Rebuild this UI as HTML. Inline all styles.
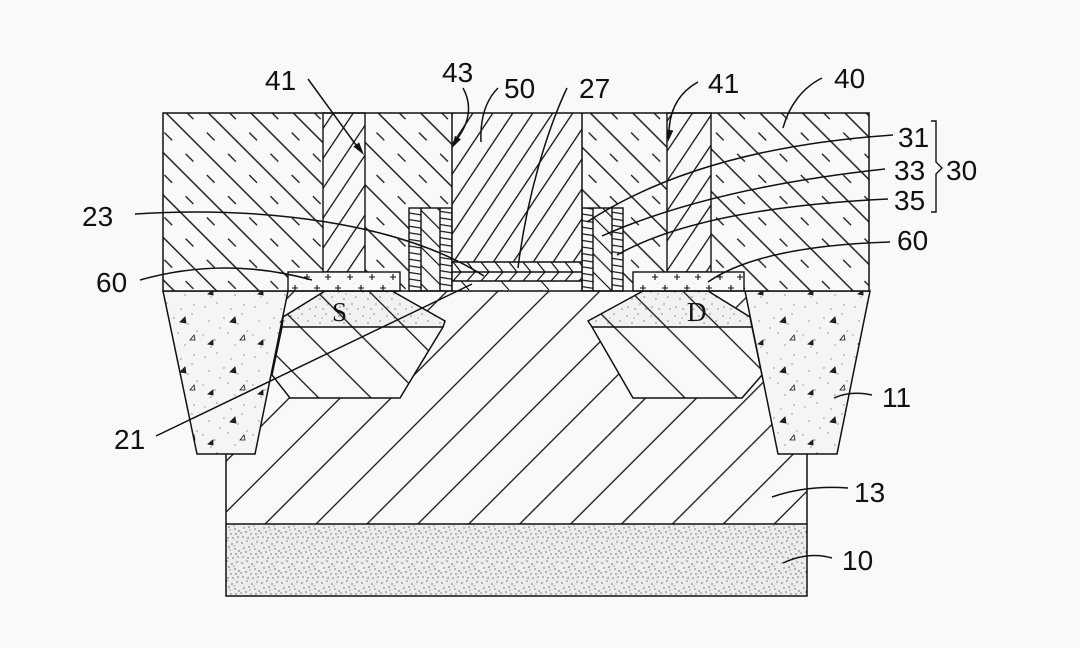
<!DOCTYPE html>
<html><head><meta charset="utf-8">
<style>
html,body{margin:0;padding:0;background:#f9f9f9;}
svg{display:block;}
text{font-family:"Liberation Sans","DejaVu Sans",sans-serif;fill:#111;}
</style></head><body>
<svg width="1080" height="648" viewBox="0 0 1080 648" xmlns="http://www.w3.org/2000/svg">
<defs>
 <pattern id="diel" patternUnits="userSpaceOnUse" width="30" height="30" patternTransform="rotate(-45)">
  <line x1="7.5" y1="0" x2="7.5" y2="30" stroke="#111" stroke-width="1.4"/>
  <line x1="22.5" y1="0" x2="22.5" y2="30" stroke="#111" stroke-width="1.3" stroke-dasharray="11 19"/>
 </pattern>
 <pattern id="plug" patternUnits="userSpaceOnUse" width="16.6" height="40" patternTransform="rotate(33.7)">
  <line x1="8" y1="0" x2="8" y2="40" stroke="#111" stroke-width="1.3"/>
 </pattern>
 <pattern id="sub" patternUnits="userSpaceOnUse" width="36" height="40" patternTransform="rotate(45)">
  <line x1="18" y1="0" x2="18" y2="40" stroke="#111" stroke-width="1.3"/>
 </pattern>
 <pattern id="sd" patternUnits="userSpaceOnUse" width="37" height="40" patternTransform="rotate(-45)">
  <line x1="18" y1="0" x2="18" y2="40" stroke="#111" stroke-width="1.3"/>
 </pattern>
 <pattern id="mid" patternUnits="userSpaceOnUse" width="13" height="20" patternTransform="rotate(-45)">
  <line x1="6" y1="0" x2="6" y2="20" stroke="#111" stroke-width="1.2"/>
 </pattern>
 <pattern id="ladder" patternUnits="userSpaceOnUse" width="10" height="6.6" patternTransform="skewY(9)">
  <line x1="0" y1="3" x2="10" y2="3" stroke="#111" stroke-width="1.2"/>
 </pattern>
 <pattern id="g27" patternUnits="userSpaceOnUse" x="451" y="262" width="14" height="10">
  <line x1="2" y1="0" x2="10" y2="10" stroke="#111" stroke-width="1.2"/>
 </pattern>
 <pattern id="g23" patternUnits="userSpaceOnUse" x="451" y="272" width="14" height="9">
  <line x1="10" y1="0" x2="2" y2="9" stroke="#111" stroke-width="1.2"/>
 </pattern>
 <pattern id="g21" patternUnits="userSpaceOnUse" x="451" y="281" width="40" height="9">
  <line x1="10" y1="0" x2="18" y2="9" stroke="#111" stroke-width="1.1"/>
 </pattern>
 <pattern id="dense" patternUnits="userSpaceOnUse" width="20" height="20">
  <rect width="20" height="20" fill="#ececec"/>
  <g fill="#333">
   <circle cx="2" cy="3" r="0.65"/><circle cx="7" cy="1" r="0.6"/><circle cx="12" cy="4" r="0.65"/>
   <circle cx="17" cy="2" r="0.6"/><circle cx="4" cy="8" r="0.6"/><circle cx="9" cy="7" r="0.65"/>
   <circle cx="15" cy="9" r="0.6"/><circle cx="19" cy="11" r="0.65"/><circle cx="1" cy="13" r="0.6"/>
   <circle cx="6" cy="12" r="0.65"/><circle cx="11" cy="14" r="0.6"/><circle cx="16" cy="14" r="0.65"/>
   <circle cx="3" cy="17" r="0.6"/><circle cx="8" cy="18" r="0.65"/><circle cx="13" cy="18" r="0.6"/>
   <circle cx="18" cy="17" r="0.6"/><circle cx="14" cy="6" r="0.5"/><circle cx="10" cy="10" r="0.5"/>
  </g>
 </pattern>
 <pattern id="sddots" patternUnits="userSpaceOnUse" width="24" height="24">
  <rect width="24" height="24" fill="#f1f1f1"/>
  <g fill="#444">
   <circle cx="3" cy="4" r="0.6"/><circle cx="14" cy="2" r="0.6"/><circle cx="20" cy="9" r="0.6"/>
   <circle cx="8" cy="11" r="0.6"/><circle cx="16" cy="16" r="0.6"/><circle cx="4" cy="19" r="0.6"/>
   <circle cx="11" cy="21" r="0.6"/><circle cx="22" cy="21" r="0.6"/><circle cx="10" cy="6" r="0.5"/>
  </g>
 </pattern>
 <pattern id="sti" patternUnits="userSpaceOnUse" width="50" height="50">
  <rect width="50" height="50" fill="#f5f5f5"/>
  <g fill="#555">
   <circle cx="5" cy="7" r="0.6"/><circle cx="17" cy="3" r="0.6"/><circle cx="31" cy="9" r="0.6"/>
   <circle cx="44" cy="5" r="0.6"/><circle cx="9" cy="21" r="0.6"/><circle cx="24" cy="18" r="0.6"/>
   <circle cx="38" cy="24" r="0.6"/><circle cx="47" cy="31" r="0.6"/><circle cx="3" cy="35" r="0.6"/>
   <circle cx="15" cy="40" r="0.6"/><circle cx="28" cy="33" r="0.6"/><circle cx="35" cy="45" r="0.6"/>
   <circle cx="20" cy="28" r="0.6"/><circle cx="42" cy="14" r="0.6"/><circle cx="11" cy="47" r="0.6"/>
  </g>
  <g fill="#222" stroke="#111" stroke-width="0.8">
   <path d="M30,22 l5,-5 l1,6 z"/>
   <path d="M8,44 l5,-4 l0,5 z"/>
   <path d="M40,40 l4,-5 l1,5 z" fill="none"/>
  </g>
 </pattern>
</defs>

<rect width="1080" height="648" fill="#f9f9f9"/>

<!-- substrate 13 -->
<polygon points="288,291 745,291 778,454 807,454 807,524 226,524 226,454 255,454" fill="url(#sub)"/>
<!-- region 10 -->
<rect x="226" y="524" width="581" height="72" fill="url(#dense)"/>
<g fill="none" stroke="#111" stroke-width="1.5">
 <polyline points="226,454 226,596 807,596 807,454"/>
 <line x1="226" y1="524" x2="807" y2="524"/>
</g>

<!-- S region -->
<polygon points="325,291 392,291 445,321 443,327 400,398 290,398 272,375 282,327 283,317" fill="#f9f9f9"/>
<polygon points="325,291 392,291 445,321 443,327 282,327 283,317" fill="url(#sddots)"/>
<polygon points="325,291 392,291 445,321 443,327 400,398 290,398 272,375 282,327 283,317" fill="url(#sd)" stroke="#111" stroke-width="1.5"/>
<line x1="282" y1="327" x2="443" y2="327" stroke="#111" stroke-width="1.5"/>
<!-- D region -->
<polygon points="643,291 708,291 750,317 752,327 762,375 742,398 633,398 592,327 588,321" fill="#f9f9f9"/>
<polygon points="643,291 708,291 750,317 752,327 592,327 588,321" fill="url(#sddots)"/>
<polygon points="643,291 708,291 750,317 752,327 762,375 742,398 633,398 592,327 588,321" fill="url(#sd)" stroke="#111" stroke-width="1.5"/>
<line x1="592" y1="327" x2="752" y2="327" stroke="#111" stroke-width="1.5"/>
<text x="332" y="321" style="font-family:'Liberation Serif',serif;font-size:27px;">S</text>
<text x="687" y="321" style="font-family:'Liberation Serif',serif;font-size:27px;">D</text>

<!-- STI 11 -->
<polygon points="163,291 288,291 255,454 197,454" fill="url(#sti)" stroke="#111" stroke-width="1.5"/>
<polygon points="745,291 870,291 837,454 778,454" fill="url(#sti)" stroke="#111" stroke-width="1.5"/>

<!-- dielectric 40 -->
<rect x="163" y="113" width="706" height="178" fill="#f9f9f9"/>
<rect x="163" y="113" width="706" height="178" fill="url(#diel)"/>

<!-- contacts 41 -->
<rect x="323" y="113" width="42" height="159" fill="#f9f9f9"/>
<rect x="323" y="113" width="42" height="159" fill="url(#plug)" stroke="#111" stroke-width="1.4"/>
<rect x="667" y="113" width="44" height="159" fill="#f9f9f9"/>
<rect x="667" y="113" width="44" height="159" fill="url(#plug)" stroke="#111" stroke-width="1.4"/>

<!-- silicide 60 -->
<rect x="288" y="272" width="112" height="19" fill="#f9f9f9" stroke="#111" stroke-width="1.4"/>
<rect x="633" y="272" width="111" height="19" fill="#f9f9f9" stroke="#111" stroke-width="1.4"/>
<g stroke="#111" stroke-width="1.1">
 <path d="M307,274v6M304,277h6 M328,274v6M325,277h6 M350,274v6M347,277h6 M372,274v6M369,277h6 M393,274v6M390,277h6"/>
 <path d="M295,285v6M292,288h6 M317,285v6M314,288h6 M338,285v6M335,288h6 M361,285v6M358,288h6 M383,285v6M380,288h6"/>
 <path d="M655,274v6M652,277h6 M677,274v6M674,277h6 M698,274v6M695,277h6 M720,274v6M717,277h6 M740,274v6M737,277h6"/>
 <path d="M643,285v6M640,288h6 M665,285v6M662,288h6 M687,285v6M684,288h6 M709,285v6M706,288h6 M731,285v6M728,288h6"/>
</g>

<!-- spacers -->
<rect x="409" y="208" width="43" height="83" fill="#f9f9f9"/>
<rect x="409" y="208" width="12" height="83" fill="url(#ladder)"/>
<rect x="421" y="208" width="19" height="83" fill="url(#mid)"/>
<rect x="440" y="208" width="12" height="83" fill="url(#ladder)"/>
<rect x="582" y="208" width="41" height="83" fill="#f9f9f9"/>
<rect x="582" y="208" width="11" height="83" fill="url(#ladder)"/>
<rect x="593" y="208" width="19" height="83" fill="url(#mid)"/>
<rect x="612" y="208" width="11" height="83" fill="url(#ladder)"/>
<g stroke="#111" stroke-width="1.4" fill="none">
 <rect x="409" y="208" width="43" height="83"/>
 <line x1="421" y1="208" x2="421" y2="291"/>
 <line x1="440" y1="208" x2="440" y2="291"/>
 <rect x="582" y="208" width="41" height="83"/>
 <line x1="593" y1="208" x2="593" y2="291"/>
 <line x1="612" y1="208" x2="612" y2="291"/>
</g>

<!-- contact 50 -->
<rect x="452" y="113" width="130" height="149" fill="#f9f9f9"/>
<rect x="452" y="113" width="130" height="149" fill="url(#plug)"/>
<!-- gate stack -->
<rect x="452" y="262" width="130" height="29" fill="#f9f9f9"/>
<rect x="452" y="262" width="130" height="10" fill="url(#g27)"/>
<rect x="452" y="272" width="130" height="9" fill="url(#g23)"/>
<rect x="452" y="281" width="130" height="10" fill="url(#g21)"/>
<g stroke="#111" stroke-width="1.5" fill="none">
 <line x1="452" y1="113" x2="452" y2="291"/>
 <line x1="582" y1="113" x2="582" y2="291"/>
 <line x1="452" y1="262" x2="582" y2="262"/>
 <line x1="452" y1="272" x2="582" y2="272"/>
 <line x1="452" y1="281" x2="582" y2="281"/>
 <rect x="163" y="113" width="706" height="178"/>
</g>

<!-- leaders -->
<g fill="none" stroke="#111" stroke-width="1.5">
 <path d="M308,79 L356,145"/>
 <path d="M463,88 C472,104 470,122 457,139"/>
 <path d="M498,88 C486,100 480,118 481,142"/>
 <path d="M567,88 C548,128 527,195 518,268"/>
 <path d="M698,82 C680,92 670,108 669,131"/>
 <path d="M822,78 C802,88 789,106 783,128"/>
 <path d="M893,135 Q700,148 587,222"/>
 <path d="M885,169 Q710,188 602,236"/>
 <path d="M888,199 Q700,208 617,255"/>
 <path d="M890,242 Q760,246 708,282"/>
 <path d="M135,214 C260,206 400,222 484,276"/>
 <path d="M140,280 Q225,256 312,280"/>
 <path d="M156,436 L472,284"/>
 <path d="M872,395 C858,392 845,393 834,398"/>
 <path d="M848,488 C820,486 795,489 772,497"/>
 <path d="M832,558 C815,553 798,556 783,563"/>
 <path d="M931,121 L936,121 L936,162 L942,168 L936,174 L936,212 L931,212" stroke-width="1.4"/>
</g>
<g fill="#111">
 <polygon points="364,155 353.5,146.6 359.1,142.4"/>
 <polygon points="452,148 460.9,139.3 454.9,135.9"/>
 <polygon points="668,142 673.3,130.5 666.3,129.5"/>
</g>

<!-- labels -->
<g style="font-size:28px;">
 <text x="265" y="90">41</text>
 <text x="442" y="82">43</text>
 <text x="504" y="98">50</text>
 <text x="579" y="98">27</text>
 <text x="708" y="93">41</text>
 <text x="834" y="88">40</text>
 <text x="898" y="147">31</text>
 <text x="894" y="180">33</text>
 <text x="946" y="180">30</text>
 <text x="894" y="210">35</text>
 <text x="897" y="250">60</text>
 <text x="82" y="226">23</text>
 <text x="96" y="292">60</text>
 <text x="114" y="449">21</text>
 <text x="882" y="407">11</text>
 <text x="854" y="502">13</text>
 <text x="842" y="570">10</text>
</g>
</svg>
</body></html>
